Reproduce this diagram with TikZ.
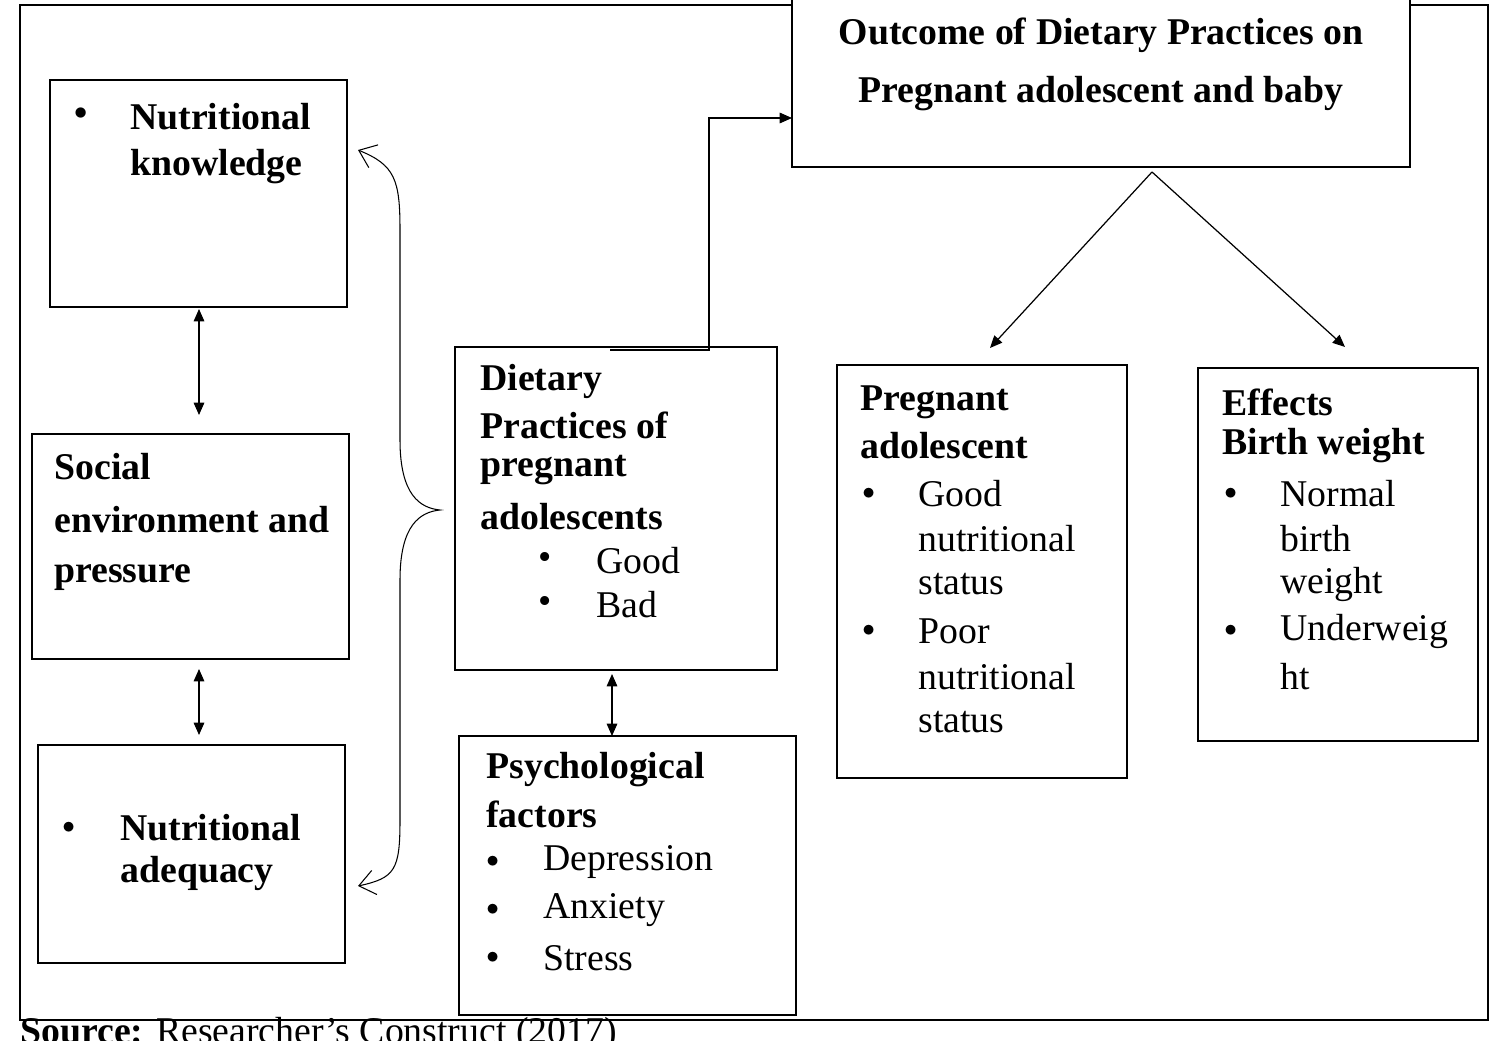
\documentclass[tikz,border=0pt]{standalone}
\usepackage{fontspec}
\setmainfont{Liberation Serif}
\usetikzlibrary{arrows.meta}
\begin{document}
\begin{tikzpicture}[x=0.02cm,y=-0.02cm,
  box/.style={draw,line width=0.8pt},
  t/.style={anchor=west,inner sep=0,font=\fontsize{21.5}{25}\selectfont},
  tb/.style={t,font=\fontsize{21.5}{25}\selectfont\bfseries},
  bl/.style={t,font=\fontsize{21.5}{25}\selectfont\Large},
  ar/.style={-{Triangle[length=7pt,width=6pt]},line width=0.7pt},
  dar/.style={{Triangle[length=7pt,width=6pt]}-{Triangle[length=7pt,width=6pt]},line width=0.7pt}]
\useasboundingbox (0,0) rectangle (1508,1041);
\clip (0,0) rectangle (1508,1041);
\draw[line width=0.6pt] (20,5) rectangle (1488,1020);
% boxes
\draw[box,fill=white] (50,80) rectangle (347,307);
\coordinate (nk) at (199,307);
\draw[box] (32,434) rectangle (349,659);
\coordinate (soB) at (199,659);
\draw[box] (38,745) rectangle (345,963);
\draw[box] (455,347) rectangle (777,670);
\coordinate (dpB) at (612,670); \coordinate (dpT) at (610,350);
\draw[box] (459,736) rectangle (796,1015);
\coordinate (psT) at (612,736);
\draw[box,fill=white] (792,-2) rectangle (1410,167);
\coordinate (ocL) at (792,118); \coordinate (ocB) at (1152,172);
\draw[box] (837,365) rectangle (1127,778);
\coordinate (paT) at (990,348);
\draw[box] (1198,368) rectangle (1478,741);
\coordinate (efT) at (1345,347);
% texts
\node[tb] at (74,117) {•}; \node[tb] at (130,117) {Nutritional};
\node[tb] at (130,167) {knowledge};
\node[tb] at (54,467) {Social};
\node[tb] at (54,520) {environment and};
\node[tb] at (54,578) {pressure};
\node[bl] at (62,828) {$\bullet$}; \node[tb] at (120,828) {Nutritional};
\node[tb] at (120,873) {adequacy};
\node[tb] at (480,381) {Dietary};
\node[tb] at (480,425) {Practices of};
\node[tb] at (480,470) {pregnant};
\node[tb] at (480,517) {adolescents};
\node[t] at (538,561) {•}; \node[t] at (596,561) {Good};
\node[t] at (538,605) {•}; \node[t] at (596,605) {Bad};
\node[tb] at (486,770) {Psychological};
\node[tb] at (486,814) {factors};
\foreach \y/\s in {862/Depression,910/Anxiety,958/Stress}{
  \node[bl] at (486,\y) {$\bullet$}; \node[t] at (543,\y) {\s};}
\node[font=\fontsize{21.5}{25}\selectfont\bfseries,align=center,inner sep=0] at (1101,64) {Outcome of Dietary Practices on\\[8pt]Pregnant adolescent and baby};
\node[tb] at (860,402) {Pregnant};
\node[tb] at (860,446) {adolescent};
\node[bl] at (862,494) {$\bullet$}; \node[t] at (918,494) {Good};
\node[t] at (918,539) {nutritional};
\node[t] at (918,584) {status};
\node[bl] at (862,631) {$\bullet$}; \node[t] at (918,631) {Poor};
\node[t] at (918,677) {nutritional};
\node[t] at (918,722) {status};
\node[tb] at (1222,402) {Effects};
\node[tb] at (1222,446) {Birth weight};
\node[bl] at (1224,494) {$\bullet$}; \node[t] at (1280,494) {Normal};
\node[t] at (1280,539) {birth};
\node[t] at (1280,584) {weight};
\node[bl] at (1224,631) {$\bullet$}; \node[t] at (1280,631) {Underweig};
\node[t] at (1280,677) {ht};
\node[t] at (20,1034) {\textbf{Source:} Researcher’s Construct (2017)};
% connectors
\draw[dar] (nk) ++(0,2) -- ++(0,106);
\draw[dar] (soB) ++(0,10) -- ++(0,66);
\draw[dar] (dpB) ++(0,4) -- (psT);
\draw[ar] (dpT) -- (709,350) -- (709,118) -- (ocL);
\draw[ar] (ocB) -- (paT);
\draw[ar] (ocB) -- (efT);
\draw[line width=0.6pt,{Straight Barb[length=9pt,width=14pt]}-{Straight Barb[length=9pt,width=14pt]}]
  (358,150) .. controls (395,165) and (400,180) .. (400,230) -- (400,440)
  .. controls (400,495) and (420,508) .. (440,510)
  .. controls (420,512) and (400,525) .. (400,580) -- (400,820)
  .. controls (400,870) and (395,878) .. (358,886);
\end{tikzpicture}
\end{document}
